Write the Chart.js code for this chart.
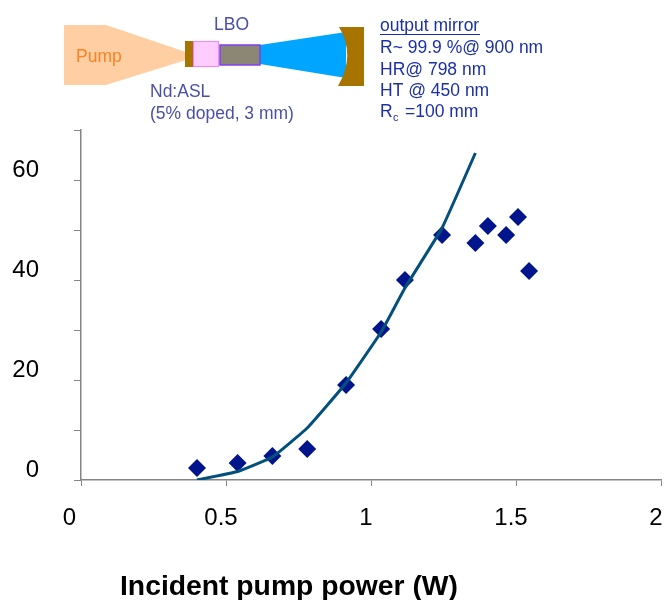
<!DOCTYPE html>
<html>
<head>
<meta charset="utf-8">
<title>Incident pump power</title>
<script src="https://cdn.jsdelivr.net/npm/chart.js@4/dist/chart.umd.min.js"></script>
<style>
  html, body { margin: 0; padding: 0; background: #fff; }
  canvas { display: block; }
</style>
</head>
<body>
<canvas id="chart" width="664" height="600"></canvas>
<script>
// values
const measuredPump = [0.40, 0.54, 0.66, 0.78, 0.914, 1.035, 1.117, 1.245, 1.36, 1.403, 1.466, 1.507, 1.545]
const measuredOutput = [2.4, 3.4, 4.8, 6.2, 19, 30.2, 40, 49, 47.4, 50.8, 49, 52.6, 41.8]
const fitPump = [0.40, 0.54, 0.66, 0.78, 0.914, 1.035, 1.117, 1.245, 1.36]
const fitOutput = [0, 1.7, 4.6, 10.4, 19.4, 29.6, 38.4, 50.4, 65.4]
const xTicks = ["0", "0.5", "1", "1.5", "2"]
const yTicks = ["0", "20", "40", "60"]
const xLabel = "Incident pump power (W)"
const mirrorLines = ["R~ 99.9 %@ 900 nm", "HR@ 798 nm", "HT @ 450 nm"]

const SANS = '"Liberation Sans", Arial, sans-serif'
const AXIS_GREY = "#858585"
const NOTE_FONT = "17.5px " + SANS

function toPoints(xs, ys) {
    return xs.map((x, i) => ({x: x, y: ys[i]}))
}

function poly(ctx, pts, fill) {
    ctx.fillStyle = fill
    ctx.beginPath()
    pts.forEach((p, i) => i ? ctx.lineTo(p[0], p[1]) : ctx.moveTo(p[0], p[1]))
    ctx.closePath()
    ctx.fill()
}

function text(ctx, str, x, y, font, color) {
    ctx.font = font
    ctx.fillStyle = color
    ctx.textAlign = "left"
    ctx.textBaseline = "alphabetic"
    ctx.fillText(str, x, y)
}

// laser cavity sketch above the plot, and the axis caption
const sketch = {
    id: "sketch",
    afterDraw(chart) {
        const ctx = chart.ctx
        ctx.save()

        poly(ctx, [[64, 25], [106, 25], [186, 52], [186, 60], [106, 85], [64, 85]], "#ffcfa3")
        poly(ctx, [[260, 45], [346, 32], [346, 78], [260, 64]], "#00a5ff")

        ctx.fillStyle = "#a87400"
        ctx.fillRect(185, 41, 8, 26)

        ctx.fillStyle = "#ffccff"
        ctx.fillRect(193, 41, 26, 26)
        ctx.strokeStyle = "#ff80ff"
        ctx.lineWidth = 1
        ctx.strokeRect(193.5, 41.5, 25, 25)

        ctx.fillStyle = "#8c8775"
        ctx.fillRect(220, 45, 40, 20)
        ctx.strokeStyle = "#7f40f0"
        ctx.lineWidth = 1.5
        ctx.strokeRect(220, 45, 40, 20)

        // output mirror, curved on the inside
        ctx.fillStyle = "#a87400"
        ctx.beginPath()
        ctx.moveTo(339, 27)
        ctx.lineTo(364, 27)
        ctx.lineTo(364, 86)
        ctx.lineTo(338, 86)
        ctx.quadraticCurveTo(356, 55, 339, 27)
        ctx.closePath()
        ctx.fill()

        text(ctx, "Pump", 76, 62, NOTE_FONT, "#ff8020")
        text(ctx, "LBO", 214, 30, NOTE_FONT, "#4a50a8")
        text(ctx, "Nd:ASL", 150, 97, NOTE_FONT, "#4a50a8")
        text(ctx, "(5% doped, 3 mm)", 150, 119, NOTE_FONT, "#4a50a8")

        const ink = "#1a30a8"
        text(ctx, "output mirror", 380, 31, NOTE_FONT, ink)
        ctx.fillStyle = ink
        ctx.fillRect(380, 34, 100, 1)
        mirrorLines.forEach((line, i) => {
            text(ctx, line, 380, 53 + i * 21.5, NOTE_FONT, ink)
        })
        text(ctx, "R", 380, 117, NOTE_FONT, ink)
        text(ctx, "c", 393, 121, "11px " + SANS, ink)
        text(ctx, "=100 mm", 405, 117, NOTE_FONT, ink)

        text(ctx, xLabel, 120, 595, "bold 28.3px " + SANS, "#000")
        ctx.restore()
    }
}

new Chart(document.getElementById("chart"), {
    type: "scatter",
    data: {
        datasets: [
            {
                label: "measured",
                data: toPoints(measuredPump, measuredOutput),
                pointStyle: "rectRot",
                pointRadius: 9,
                pointHoverRadius: 9,
                backgroundColor: "#00148c",
                borderColor: "#00148c",
                borderWidth: 0,
                showLine: false,
                order: 2
            },
            {
                label: "fit",
                data: toPoints(fitPump, fitOutput),
                showLine: true,
                pointRadius: 0,
                borderColor: "#04507c",
                borderWidth: 3,
                tension: 0.1,
                fill: false,
                order: 1
            }
        ]
    },
    options: {
        responsive: false,
        animation: false,
        // autoPadding would keep room for the point radius at the right edge
        layout: {autoPadding: false, padding: {top: 130, right: 3, left: 0, bottom: 0}},
        plugins: {legend: {display: false}, title: {display: false}, tooltip: {enabled: false}},
        scales: {
            x: {
                type: "linear",
                min: 0,
                max: 2,
                afterFit(scale) {
                    scale.height = 120
                    scale.paddingLeft = 0
                    scale.paddingRight = 0
                },
                border: {color: AXIS_GREY, width: 1.5},
                grid: {drawOnChartArea: false, color: AXIS_GREY, tickLength: 6, tickWidth: 1},
                ticks: {
                    stepSize: 0.5,
                    autoSkip: false,
                    maxRotation: 0,
                    padding: 18,
                    labelOffset: -5,
                    color: "#000",
                    font: {family: SANS, size: 24},
                    // the 0 sits further left than the others
                    callback(value, i) {
                        return i === 0 ? xTicks[i] + "  " : xTicks[i]
                    }
                }
            },
            y: {
                type: "linear",
                min: 0,
                max: 70,
                afterFit(scale) {
                    scale.width = 81
                    scale.paddingTop = 0
                    scale.paddingBottom = 0
                },
                border: {color: AXIS_GREY, width: 1.5},
                grid: {drawOnChartArea: false, color: AXIS_GREY, tickLength: 7, tickWidth: 1},
                ticks: {
                    stepSize: 10,
                    autoSkip: false,
                    padding: 35,
                    labelOffset: -10,
                    color: "#000",
                    font: {family: SANS, size: 24},
                    callback(value) {
                        return value % 20 === 0 ? yTicks[value / 20] : ""
                    }
                }
            }
        }
    },
    plugins: [sketch]
})
</script>
</body>
</html>
